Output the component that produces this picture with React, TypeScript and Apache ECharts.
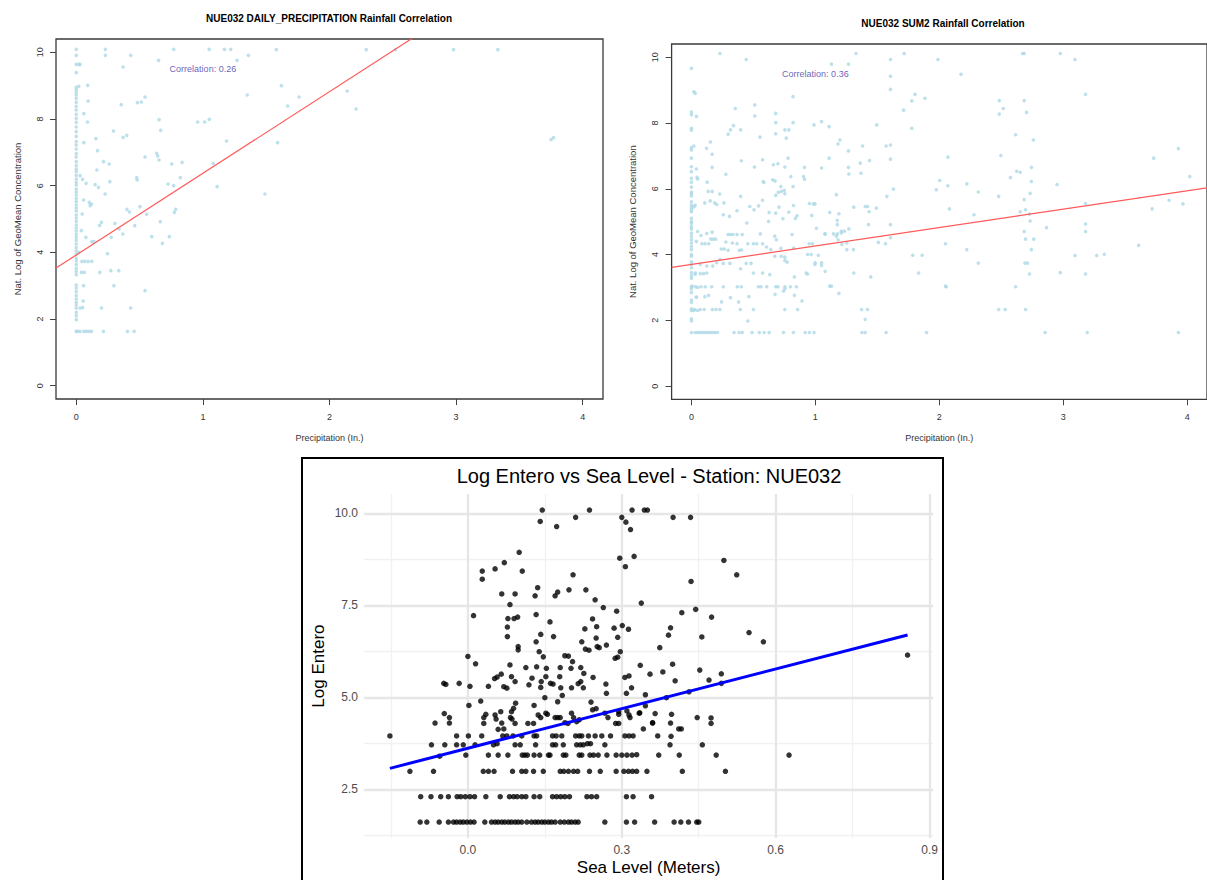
import React, { useEffect, useRef } from "react";
import * as echarts from "echarts";

// ---------- texts ----------
const dailyTitle = "NUE032 DAILY_PRECIPITATION Rainfall Correlation";
const sum2Title = "NUE032 SUM2 Rainfall Correlation";
const seaTitle = "Log Entero vs Sea Level - Station: NUE032";
const rXName = "Precipitation (In.)";
const rYName = "Nat. Log of GeoMean Concentration";
const seaXName = "Sea Level (Meters)";
const seaYName = "Log Entero";
const dailyCorr = "Correlation: 0.26";
const sum2Corr = "Correlation: 0.36";
const corrAt = [1, 9.5];

// ---------- ticks ----------
const rTicksX = [0, 1, 2, 3, 4];
const rTicksY = [0, 2, 4, 6, 8, 10];
const seaTicksX = [0, 0.3, 0.6, 0.9];
const seaMinorX = [-0.15, 0.15, 0.45, 0.75];
const seaTicksY = [2.5, 5, 7.5, 10];
const seaMinorY = [1.25, 3.75, 6.25, 8.75];

// ---------- fits ----------
const dailyFit = { intercept: 3.92, slope: 2.45 };
const sum2Fit = { intercept: 3.7, slope: 0.56 };
const seaFit = { intercept: 3.616, slope: 3.59 };

// ---------- data ----------
const dailyZeroColumn = [10.09, 9.91, 9.64, 9.39, 8.95, 8.88, 8.8, 8.72, 8.62, 8.5, 8.38, 8.27, 8.14, 8.02, 7.9, 7.76, 7.62, 7.48, 7.32, 7.22, 7.1, 6.96, 6.86, 6.72, 6.6, 6.5, 6.42, 6.31, 6.2, 6.1, 6.02, 5.9, 5.81, 5.72, 5.62, 5.52, 5.42, 5.33, 5.24, 5.12, 5.03, 4.93, 4.82, 4.73, 4.64, 4.54, 4.45, 4.36, 4.25, 4.14, 4.04, 3.94, 3.82, 3.74, 3.63, 3.52, 3.43, 3.33, 3.02, 2.93, 2.82, 2.7, 2.6, 2.5, 2.42, 2.33, 2.2, 2.1, 1.98, 1.63];
const dailyPoints = [
  [0.02, 9.64], [0.03, 9.64], [0.02, 8.98], [0.09, 9.01], [0.01, 1.63], [0.03, 1.63], [0.06, 1.63], [0.08, 1.63], [0.1, 1.63], [0.12, 1.63],
  [0.03, 6.3], [0.04, 4.65], [0.02, 4.0], [0.04, 3.4], [0.03, 2.33],
  [0.23, 10.09], [0.23, 9.91], [0.43, 9.91], [0.37, 9.56], [0.65, 9.76], [0.77, 10.09], [1.05, 10.09], [1.17, 10.09], [1.22, 10.09], [1.27, 9.76], [1.36, 9.91], [1.58, 10.08], [2.29, 10.08], [2.52, 10.08], [2.98, 10.08], [3.33, 10.08],
  [0.094, 8.54], [0.06, 8.16], [0.089, 7.91], [0.355, 8.43], [0.483, 8.49], [0.514, 8.51], [0.543, 8.66], [0.654, 7.98], [0.667, 7.66], [0.959, 7.91], [1.014, 7.91], [1.051, 7.99], [1.62, 9.0], [1.35, 8.72], [1.76, 8.66], [1.67, 8.39], [2.14, 8.84], [2.21, 8.3],
  [0.294, 7.64], [0.37, 7.45], [0.399, 7.51], [0.155, 7.41], [0.06, 7.29], [0.168, 7.05], [1.187, 7.34], [1.59, 7.29], [3.75, 7.38], [3.77, 7.44],
  [0.215, 6.72], [0.26, 6.65], [0.163, 6.47], [0.543, 6.86], [0.635, 6.97], [0.643, 6.89], [0.654, 6.77], [0.754, 6.65], [0.836, 6.7], [1.082, 6.67],
  [0.05, 6.19], [0.078, 6.07], [0.149, 6.03], [0.176, 5.95], [0.265, 6.12], [0.228, 5.75], [0.478, 6.24], [0.481, 6.17], [0.822, 6.24], [0.725, 6.05], [0.769, 6.0], [1.113, 5.97], [1.49, 5.75],
  [0.058, 5.57], [0.102, 5.5], [0.11, 5.4], [0.12, 5.45], [0.047, 5.15], [0.4, 5.29], [0.42, 5.21], [0.504, 5.37], [0.556, 5.14], [0.785, 5.29], [0.775, 5.2],
  [0.199, 4.9], [0.184, 4.81], [0.305, 4.87], [0.339, 4.7], [0.368, 4.55], [0.462, 4.8], [0.664, 4.92], [0.596, 4.47], [0.68, 4.27], [0.735, 4.47],
  [0.076, 4.45], [0.123, 4.32], [0.141, 4.32], [0.276, 4.45], [0.045, 3.73], [0.068, 3.73], [0.094, 3.73], [0.123, 3.73], [0.063, 3.4], [0.186, 3.4], [0.273, 3.45], [0.336, 3.45], [0.247, 3.96],
  [0.058, 3.0], [0.297, 3.0], [0.543, 2.85], [0.055, 2.54], [0.05, 2.34], [0.199, 2.33], [0.43, 2.33], [0.215, 1.63], [0.404, 1.63], [0.457, 1.63],
];

const sum2ZeroColumn = [9.66, 8.33, 8.25, 7.84, 7.78, 7.25, 7.18, 6.93, 6.67, 6.52, 6.32, 6.2, 6.05, 5.9, 5.85, 5.78, 5.6, 5.5, 5.42, 5.35, 5.3, 5.1, 5.0, 4.95, 4.85, 4.78, 4.65, 4.55, 4.45, 4.35, 4.25, 4.15, 4.0, 3.95, 3.78, 3.7, 3.6, 3.45, 3.35, 3.28, 3.02, 2.96, 2.85, 2.62, 2.55, 2.35, 2.3, 2.05, 1.98, 1.63];
const sum2Points = [
  [0.02, 8.95], [0.03, 8.9], [0.04, 8.2], [0.02, 7.3], [0.04, 6.6], [0.05, 6.3], [0.03, 5.5], [0.02, 5.45], [0.05, 4.7], [0.04, 4.4], [0.03, 3.4], [0.05, 3.0], [0.04, 2.7], [0.02, 2.3], [0.05, 2.3],
  [0.03, 1.63], [0.05, 1.63], [0.07, 1.63], [0.09, 1.63], [0.11, 1.63], [0.13, 1.63], [0.15, 1.63], [0.17, 1.63], [0.19, 1.63], [0.21, 1.63],
  [0.23, 10.11], [0.442, 9.93], [1.13, 9.79], [1.267, 9.79], [1.328, 10.11], [1.606, 9.93], [1.606, 9.42], [1.606, 9.02], [1.717, 10.11], [1.989, 9.93],
  [0.82, 8.8], [0.354, 8.44], [0.511, 8.55], [0.511, 8.21], [0.68, 8.29], [0.68, 8.01], [0.82, 8.01], [1.804, 8.87], [1.778, 8.67], [1.884, 8.75], [1.712, 8.39], [1.778, 7.84],
  [0.397, 7.79], [0.315, 7.79], [0.296, 7.66], [0.339, 7.92], [0.553, 7.57], [0.68, 7.67], [0.754, 7.79], [0.786, 7.79], [0.765, 7.54], [0.989, 7.94], [1.05, 8.04], [1.111, 7.89], [1.495, 7.94],
  [1.198, 7.48], [1.183, 7.36], [1.267, 7.15], [1.381, 7.3], [1.571, 7.3], [1.606, 7.33], [0.122, 7.23], [0.153, 7.42], [0.167, 7.05], [0.278, 6.44], [0.402, 6.85], [0.574, 6.88], [0.508, 6.66],
  [0.661, 6.73], [0.698, 6.76], [0.754, 6.66], [0.78, 6.93], [0.802, 6.37], [0.913, 6.65], [1.05, 6.63], [1.111, 6.93], [1.267, 6.65], [1.362, 6.78], [1.437, 6.86], [1.27, 6.45], [1.368, 6.47],
  [1.606, 6.9], [1.63, 5.99], [1.577, 5.77], [0.167, 6.65], [0.045, 6.35], [0.127, 6.2], [0.135, 5.92], [0.167, 5.92], [0.228, 5.84], [0.108, 5.57], [0.151, 5.63], [0.188, 5.57], [0.204, 5.52],
  [0.262, 5.57], [0.257, 5.21], [0.307, 5.16], [0.368, 5.33], [0.397, 5.77], [0.447, 4.96], [0.471, 5.46], [0.505, 5.36], [0.542, 5.48], [0.627, 5.28], [0.574, 5.65], [0.579, 6.22], [0.585, 6.19],
  [0.656, 6.27], [0.675, 6.24], [0.722, 6.07], [0.701, 5.89], [0.68, 5.8], [0.725, 5.92], [0.749, 5.95], [0.754, 5.85], [0.82, 6.07], [0.823, 5.49], [0.786, 5.29], [0.738, 5.09], [0.68, 5.26],
  [0.706, 5.44], [0.622, 5.01], [0.852, 5.18], [0.839, 5.1], [0.905, 6.37], [0.913, 6.29], [0.952, 5.55], [0.984, 5.54], [0.997, 5.54], [0.971, 5.19], [1.008, 4.8], [1.079, 4.62], [1.116, 5.28],
  [1.169, 5.82], [1.19, 5.24], [1.177, 5.04], [1.177, 4.91], [1.209, 4.71], [1.235, 4.71], [1.27, 4.78], [1.169, 4.56], [1.183, 4.45], [1.254, 4.35], [1.31, 5.44], [1.402, 5.46], [1.421, 5.46],
  [1.434, 5.3], [1.492, 5.41], [1.429, 4.91], [1.606, 4.91], [1.508, 4.37], [1.606, 4.51], [1.566, 4.33], [1.307, 4.15], [1.786, 3.98], [1.862, 3.98], [1.833, 3.44], [2.05, 4.33], [2.05, 3.04],
  [1.447, 3.32], [1.116, 3.04], [1.13, 3.04], [1.19, 2.82], [1.373, 2.33], [1.421, 2.33], [1.402, 2.03], [1.376, 1.63], [1.402, 1.63], [1.571, 1.63], [1.897, 1.63],
  [0.077, 4.58], [0.124, 4.64], [0.167, 4.68], [0.156, 4.47], [0.177, 4.47], [0.196, 4.47], [0.241, 4.17], [0.265, 4.17], [0.085, 4.33], [0.11, 4.33], [0.14, 4.33], [0.278, 4.38], [0.296, 4.61],
  [0.315, 4.61], [0.336, 4.61], [0.368, 4.61], [0.41, 4.61], [0.296, 4.13], [0.331, 4.35], [0.368, 4.33], [0.386, 4.13], [0.405, 4.14], [0.455, 4.33], [0.556, 4.63], [0.5, 4.33], [0.527, 4.33],
  [0.574, 4.33], [0.606, 4.23], [0.64, 4.15], [0.672, 4.56], [0.685, 4.45], [0.722, 4.19], [0.754, 3.92], [0.772, 3.77], [0.812, 4.61], [0.825, 4.2], [0.95, 4.33], [0.976, 4.33], [0.937, 4.0],
  [0.966, 4.0], [1.024, 3.98], [0.999, 3.75], [1.05, 3.75], [1.077, 4.63], [1.146, 4.63], [1.177, 4.63], [1.209, 4.66], [1.214, 4.31], [1.254, 4.15], [0.032, 3.44], [0.071, 3.42], [0.098, 3.42],
  [0.124, 3.44], [0.071, 3.7], [0.124, 3.65], [0.172, 3.65], [0.204, 3.75], [0.23, 3.85], [0.257, 3.73], [0.31, 3.73], [0.397, 3.57], [0.442, 3.73], [0.481, 3.73], [0.5, 3.44], [0.574, 3.44],
  [0.632, 3.39], [0.672, 3.95], [0.725, 3.95], [0.754, 3.82], [0.831, 3.32], [0.926, 3.44], [0.937, 3.41], [0.997, 3.7], [1.05, 3.67], [1.079, 3.49], [1.31, 3.44],
  [0.005, 3.04], [0.032, 3.02], [0.077, 3.02], [0.111, 3.02], [0.164, 3.02], [0.257, 3.02], [0.37, 3.02], [0.402, 3.02], [0.54, 3.02], [0.561, 3.02], [0.608, 3.02], [0.68, 3.02], [0.698, 3.02],
  [0.754, 3.02], [0.799, 3.02], [0.847, 3.02], [0.04, 2.71], [0.108, 2.72], [0.138, 2.76], [0.243, 2.56], [0.315, 2.69], [0.381, 2.56], [0.463, 2.72], [0.675, 2.79], [0.743, 2.89], [0.754, 2.96],
  [0.831, 2.76], [0.892, 2.59], [0.026, 2.33], [0.071, 2.33], [0.103, 2.33], [0.169, 2.33], [0.198, 2.33], [0.23, 2.33], [0.394, 2.33], [0.5, 2.33], [0.754, 2.33], [0.857, 2.33], [0.455, 1.98],
  [0.344, 1.63], [0.384, 1.63], [0.41, 1.63], [0.489, 1.63], [0.548, 1.63], [0.587, 1.63], [0.627, 1.63], [0.743, 1.63], [0.823, 1.63], [0.918, 1.63], [0.952, 1.63], [0.989, 1.63],
  [2.672, 10.11], [2.685, 10.11], [2.976, 10.11], [3.095, 9.93], [2.175, 9.48], [3.18, 8.87], [2.484, 8.68], [2.685, 8.68], [2.516, 8.44], [2.484, 8.27], [2.704, 8.32], [2.616, 7.64], [2.759, 7.48],
  [2.069, 6.96], [2.497, 7.01], [3.929, 7.22], [3.73, 6.93], [4.021, 6.37], [2.743, 6.65], [2.624, 6.53], [2.653, 6.5], [2.574, 6.34], [2.003, 6.25], [1.976, 5.97], [2.069, 6.09], [2.222, 6.15],
  [2.315, 5.9], [2.743, 6.22], [2.733, 5.86], [2.95, 6.13], [2.479, 5.77], [2.685, 5.67], [2.082, 5.39], [2.28, 5.21], [2.653, 5.3], [2.696, 5.36], [2.728, 5.23], [2.733, 5.02], [3.18, 5.55],
  [3.18, 4.93], [3.18, 4.7], [2.865, 4.82], [2.685, 4.7], [2.696, 4.47], [2.762, 4.47], [3.717, 5.39], [3.854, 5.65], [3.966, 5.54], [3.608, 4.28], [2.222, 4.15], [2.743, 4.15], [2.315, 3.74],
  [2.691, 3.74], [2.712, 3.74], [2.728, 3.41], [2.976, 3.45], [3.095, 3.97], [3.27, 3.97], [3.331, 4.01], [3.18, 3.41], [2.056, 3.02], [2.616, 3.02], [2.479, 2.33], [2.532, 2.33], [2.696, 2.33],
  [2.854, 1.63], [3.193, 1.63], [3.929, 1.63],
];

const seaLevelPoints = [
  [0.145, 10.09], [0.141, 9.78], [0.173, 9.64], [0.21, 9.89], [0.237, 10.09], [0.3, 9.89], [0.308, 9.76], [0.317, 9.56], [0.32, 10.09], [0.344, 10.09], [0.35, 10.09], [0.4, 9.89], [0.434, 9.89],
  [0.296, 8.78], [0.307, 8.55], [0.324, 8.83], [0.1, 8.94], [0.071, 8.66], [0.053, 8.49], [0.028, 8.43], [0.028, 8.21], [0.106, 8.43], [0.205, 8.33], [0.499, 8.72], [0.524, 8.33], [0.435, 8.15],
  [0.066, 7.81], [0.092, 7.81], [0.082, 7.52], [0.131, 7.76], [0.136, 7.98], [0.17, 7.76], [0.175, 7.86], [0.197, 7.92], [0.23, 7.92], [0.248, 7.65], [0.264, 7.44], [0.29, 7.34], [0.338, 7.56],
  [0.417, 7.3], [0.444, 7.39], [0.475, 7.18], [0.011, 7.22], [0.078, 7.14], [0.09, 7.14], [0.097, 7.18], [0.077, 6.91], [0.077, 6.65], [0.098, 6.38], [0.098, 6.29], [0.133, 7.25], [0.16, 7.05],
  [0.133, 6.51], [0.142, 6.71], [0.167, 6.65], [0.139, 6.24], [0.147, 6.1], [0.228, 6.86], [0.243, 7.13], [0.251, 6.92], [0.222, 6.51], [0.229, 6.31], [0.236, 6.28], [0.25, 6.61], [0.252, 6.38],
  [0.256, 6.35], [0.27, 6.42], [0.285, 6.88], [0.292, 6.63], [0.301, 6.95], [0.313, 6.85], [0.297, 6.24], [0.292, 6.09], [0.287, 6.06], [0.374, 6.35], [0.395, 6.89], [0.391, 6.69], [0.456, 6.64],
  [0.548, 6.76], [0.576, 6.51], [0.857, 6.15],
  [0, 6.11], [0.015, 5.91], [-0.047, 5.38], [-0.043, 5.35], [-0.017, 5.38], [0.004, 5.3], [0.04, 5.3], [0.052, 5.51], [0.057, 5.55], [0.065, 5.63], [0.07, 5.29], [0.076, 5.25], [0.082, 5.88],
  [0.085, 5.56], [0.092, 5.43], [0.113, 5.81], [0.134, 5.83], [0.125, 5.52], [0.119, 5.34], [0.143, 5.43], [0.142, 5.27], [0.153, 5.79], [0.152, 5.56], [0.161, 5.38], [0.166, 5.36], [0.18, 5.81],
  [0.179, 5.56], [0.181, 5.26], [0.189, 6.13], [0.196, 6.12], [0.201, 5.79], [0.204, 5.97], [0.202, 5.26], [0.215, 5.37], [0.22, 5.43], [0.22, 5.81], [0.226, 5.65], [0.244, 5.54], [0.225, 5.26],
  [0.269, 5.36], [0.27, 5.11], [0.306, 5.54], [0.314, 5.58], [0.309, 5.11], [0.319, 5.26], [0.336, 5.87], [0.346, 5.07], [0.355, 5.63], [0.38, 5.69], [0.399, 5.9], [0.404, 5.45], [0.452, 5.74],
  [0.47, 5.47], [0.494, 5.64], [0.494, 5.38], [0.431, 5.15], [0.387, 4.99],
  [0.184, 5.05], [0.175, 4.88], [0.15, 4.99], [0.129, 4.78], [0.093, 4.84], [0.089, 4.7], [0.085, 4.61], [0.064, 4.61], [0.053, 4.52], [0.025, 4.9], [0.002, 4.78], [0.035, 4.54], [0.031, 4.45],
  [0.031, 4.29], [0.055, 4.41], [0.059, 4.13], [0.066, 4.3], [0.07, 4.14], [0.083, 4.45], [0.086, 4.41], [0.092, 4.29], [0.117, 4.29], [0.128, 4.29], [0.137, 4.52], [0.142, 4.45], [0.152, 4.57],
  [0.155, 4.54], [0.17, 4.45], [0.175, 4.45], [0.18, 4.45], [0.189, 4.31], [0.195, 4.29], [0.202, 4.57], [0.206, 4.45], [0.212, 4.34], [0.217, 4.39], [0.24, 4.87], [0.243, 4.66], [0.25, 4.69],
  [0.267, 4.57], [0.273, 4.45], [0.288, 4.29], [0.294, 4.29], [0.294, 4.61], [0.294, 4.54], [0.31, 4.63], [0.314, 4.52], [0.316, 4.45], [0.334, 4.57], [0.342, 4.14], [0.36, 4.3], [0.365, 4.56],
  [0.346, 4.77], [0.335, 4.58], [0.397, 4.54], [0.395, 4.3], [0.36, 4.31], [0.447, 4.45], [0.474, 4.44], [0.474, 4.29], [0.411, 4.14], [0.416, 4.14], [-0.064, 4.3], [-0.046, 4.56], [-0.036, 4.45],
  [-0.036, 4.3],
  [-0.152, 3.95], [-0.022, 3.95], [0.001, 3.95], [0.027, 3.95], [0.068, 3.95], [0.076, 3.95], [0.088, 3.95], [0.105, 3.95], [0.129, 3.95], [0.134, 3.95], [0.165, 3.95], [0.172, 3.95], [0.183, 3.95],
  [0.21, 3.95], [0.217, 3.95], [0.222, 3.95], [0.235, 3.95], [0.248, 3.95], [0.261, 3.95], [0.278, 3.95], [0.306, 3.95], [0.314, 3.95], [0.322, 3.95], [0.37, 3.95], [0.396, 3.94],
  [-0.071, 3.71], [-0.045, 3.71], [-0.022, 3.71], [-0.009, 3.71], [0.014, 3.71], [0.05, 3.71], [0.057, 3.74], [0.092, 3.71], [0.102, 3.71], [0.132, 3.71], [0.165, 3.71], [0.171, 3.71], [0.186, 3.71],
  [0.212, 3.71], [0.219, 3.71], [0.225, 3.71], [0.233, 3.74], [0.239, 3.74], [0.267, 3.71], [0.394, 3.71], [0.457, 3.71],
  [-0.055, 3.4], [-0.004, 3.43], [0.04, 3.43], [0.059, 3.43], [0.078, 3.43], [0.106, 3.43], [0.111, 3.43], [0.116, 3.43], [0.129, 3.43], [0.14, 3.43], [0.157, 3.43], [0.16, 3.43], [0.186, 3.43],
  [0.191, 3.43], [0.217, 3.43], [0.222, 3.43], [0.238, 3.43], [0.245, 3.43], [0.254, 3.43], [0.271, 3.43], [0.289, 3.43], [0.3, 3.43], [0.31, 3.43], [0.32, 3.43], [0.329, 3.44], [0.372, 3.43],
  [0.412, 3.43], [0.484, 3.43], [0.626, 3.43],
  [-0.113, 2.99], [-0.067, 2.99], [0.03, 2.99], [0.04, 2.99], [0.051, 2.99], [0.087, 2.99], [0.105, 2.99], [0.113, 2.99], [0.128, 2.99], [0.147, 2.99], [0.18, 2.99], [0.187, 2.99], [0.196, 2.99],
  [0.206, 2.99], [0.214, 2.99], [0.237, 2.99], [0.258, 2.99], [0.289, 2.99], [0.304, 2.99], [0.313, 2.99], [0.321, 2.99], [0.329, 2.99], [0.349, 2.99], [0.418, 2.99], [0.502, 2.99],
  [-0.092, 2.3], [-0.072, 2.3], [-0.053, 2.3], [-0.038, 2.3], [-0.021, 2.3], [-0.014, 2.3], [-0.005, 2.3], [0.004, 2.3], [0.013, 2.3], [0.035, 2.3], [0.063, 2.3], [0.081, 2.3], [0.089, 2.3],
  [0.096, 2.3], [0.105, 2.3], [0.113, 2.3], [0.129, 2.3], [0.14, 2.3], [0.165, 2.3], [0.173, 2.3], [0.181, 2.3], [0.189, 2.3], [0.198, 2.3], [0.232, 2.3], [0.241, 2.3], [0.251, 2.3], [0.309, 2.3],
  [0.322, 2.3], [0.358, 2.3],
  [-0.093, 1.61], [-0.08, 1.61], [-0.056, 1.61], [-0.038, 1.61], [-0.028, 1.61], [-0.022, 1.61], [-0.015, 1.61], [-0.009, 1.61], [-0.002, 1.61], [0.005, 1.61], [0.012, 1.61], [0.033, 1.61],
  [0.046, 1.61], [0.053, 1.61], [0.059, 1.61], [0.066, 1.61], [0.072, 1.61], [0.079, 1.61], [0.085, 1.61], [0.092, 1.61], [0.098, 1.61], [0.105, 1.61], [0.115, 1.61], [0.124, 1.61], [0.131, 1.61],
  [0.137, 1.61], [0.144, 1.61], [0.15, 1.61], [0.157, 1.61], [0.163, 1.61], [0.17, 1.61], [0.18, 1.61], [0.188, 1.61], [0.196, 1.61], [0.202, 1.61], [0.209, 1.61], [0.215, 1.61], [0.267, 1.61],
  [0.309, 1.61], [0.325, 1.61], [0.364, 1.61], [0.402, 1.61], [0.415, 1.61], [0.43, 1.61], [0.446, 1.61], [0.45, 1.61],
];

const rFont = "'Liberation Sans', Arial, sans-serif";
const ggFont = "'Liberation Sans', Arial, sans-serif";

function fitLine(fit: { intercept: number; slope: number }, x0: number, x1: number) {
  return [
    [x0, fit.intercept + fit.slope * x0],
    [x1, fit.intercept + fit.slope * x1],
  ];
}

function rXAxis(gridIndex: number) {
  return {
    type: "value", gridIndex, min: -0.16, max: 4.16,
    axisLine: { show: false, onZero: false },
    axisTick: { show: true, inside: false, length: 6, customValues: rTicksX, lineStyle: { color: "#444", width: 1 } },
    axisLabel: { show: true, customValues: rTicksX, margin: 13, color: "#333", fontSize: 9, fontFamily: rFont },
    splitLine: { show: false },
    name: rXName, nameLocation: "middle", nameGap: 34,
    nameTextStyle: { color: "#333", fontSize: 9, fontFamily: rFont },
  };
}
function rYAxis(gridIndex: number) {
  return {
    type: "value", gridIndex, min: -0.4, max: 10.4,
    axisLine: { show: false, onZero: false },
    axisTick: { show: true, inside: false, length: 6, customValues: rTicksY, lineStyle: { color: "#444", width: 1 } },
    axisLabel: { show: true, customValues: rTicksY, rotate: 90, margin: 12, color: "#333", fontSize: 9, fontFamily: rFont },
    splitLine: { show: false },
    name: rYName, nameLocation: "middle", nameGap: 34,
    nameTextStyle: { color: "#333", fontSize: 9.5, fontFamily: rFont },
  };
}

function corrSeries(idx: number, text: string) {
  return {
    type: "scatter", xAxisIndex: idx, yAxisIndex: idx, silent: true, z: 5,
    data: [corrAt], symbolSize: 1, itemStyle: { color: "rgba(0,0,0,0)" },
    label: { show: true, position: "inside", formatter: text, color: "#3d37a8", fontSize: 9, fontFamily: rFont },
  };
}

export default function App() {
  const ref = useRef<HTMLDivElement>(null);
  useEffect(() => {
    if (!ref.current) return;
    const chart = echarts.init(ref.current, undefined, { renderer: "svg" });
    const seaXs = seaLevelPoints.map((p) => p[0]);
    const seaMinX = Math.min(...seaXs);
    const seaMaxX = Math.max(...seaXs);
    const daily = dailyZeroColumn.map((y) => [0, y]).concat(dailyPoints);
    const sum2 = sum2ZeroColumn.map((y) => [0, y]).concat(sum2Points);

    const gridMarks = [
      ...seaMinorY.map((v) => ({ yAxis: v, lineStyle: { color: "#f1f1f1", width: 1.3, type: "solid" } })),
      ...seaMinorX.map((v) => ({ xAxis: v, lineStyle: { color: "#f1f1f1", width: 1.3, type: "solid" } })),
      ...seaTicksY.map((v) => ({ yAxis: v, lineStyle: { color: "#e6e6e6", width: 2.3, type: "solid" } })),
      ...seaTicksX.map((v) => ({ xAxis: v, lineStyle: { color: "#e6e6e6", width: 2.3, type: "solid" } })),
    ];

    chart.setOption({
      animation: false,
      backgroundColor: "#ffffff",
      grid: [
        { left: 56, top: 39, width: 547, height: 360, show: true, borderColor: "#3a3a3a", borderWidth: 1.3, backgroundColor: "transparent" },
        { left: 671.6, top: 44, width: 544.3, height: 355.3, show: true, borderColor: "#3a3a3a", borderWidth: 1.3, backgroundColor: "transparent" },
        { left: 364, top: 494, width: 569.2, height: 344.1, show: false },
      ],
      xAxis: [
        rXAxis(0),
        rXAxis(1),
        {
          type: "value", gridIndex: 2, min: -0.2025, max: 0.907,
          axisLine: { show: false, onZero: false }, axisTick: { show: false }, splitLine: { show: false },
          axisLabel: { customValues: seaTicksX, formatter: (v: number) => v.toFixed(1), margin: 6, color: "#4d4d4d", fontSize: 12, fontFamily: ggFont },
          name: seaXName, nameLocation: "middle", nameGap: 21,
          nameTextStyle: { color: "#000", fontSize: 17, fontFamily: ggFont },
        },
      ],
      yAxis: [
        rYAxis(0),
        rYAxis(1),
        {
          type: "value", gridIndex: 2, min: 1.175, max: 10.525,
          axisLine: { show: false, onZero: false }, axisTick: { show: false }, splitLine: { show: false },
          axisLabel: { customValues: seaTicksY, formatter: (v: number) => v.toFixed(1), margin: 6, color: "#4d4d4d", fontSize: 12, fontFamily: ggFont },
          name: seaYName, nameLocation: "middle", nameGap: 37,
          nameTextStyle: { color: "#000", fontSize: 17, fontFamily: ggFont },
        },
      ],
      graphic: [
        { type: "text", x: 329, y: 18, style: { text: dailyTitle, fill: "#000", fontSize: 10, fontWeight: "bold", fontFamily: rFont, align: "center", verticalAlign: "middle" } },
        { type: "text", x: 943, y: 23, style: { text: sum2Title, fill: "#000", fontSize: 10, fontWeight: "bold", fontFamily: rFont, align: "center", verticalAlign: "middle" } },
        { type: "text", x: 649, y: 476, style: { text: seaTitle, fill: "#000", fontSize: 20, fontFamily: ggFont, align: "center", verticalAlign: "middle" } },
        { type: "rect", shape: { x: 302, y: 458, width: 641, height: 440 }, style: { fill: "none", stroke: "#000", lineWidth: 2 }, z: 10 },
      ],
      series: [
        { type: "scatter", xAxisIndex: 0, yAxisIndex: 0, data: daily, symbolSize: 3.6, itemStyle: { color: "#add8e6" }, silent: true },
        { type: "line", xAxisIndex: 0, yAxisIndex: 0, data: fitLine(dailyFit, -0.16, 4.16), symbol: "none", clip: true, lineStyle: { color: "#ff5a5a", width: 1.2 }, silent: true, z: 3 },
        corrSeries(0, dailyCorr),
        { type: "scatter", xAxisIndex: 1, yAxisIndex: 1, data: sum2, symbolSize: 3.6, itemStyle: { color: "#add8e6" }, silent: true },
        { type: "line", xAxisIndex: 1, yAxisIndex: 1, data: fitLine(sum2Fit, -0.16, 4.16), symbol: "none", clip: true, lineStyle: { color: "#ff5a5a", width: 1.2 }, silent: true, z: 3 },
        corrSeries(1, sum2Corr),
        {
          type: "scatter", xAxisIndex: 2, yAxisIndex: 2, data: [], z: 0, zlevel: 0, silent: true,
          markLine: { silent: true, z: 0, symbol: ["none", "none"], label: { show: false }, animation: false, data: gridMarks },
        },
        { type: "scatter", xAxisIndex: 2, yAxisIndex: 2, data: seaLevelPoints, symbolSize: 5.5, itemStyle: { color: "#000" }, silent: true, z: 6 },
        { type: "line", xAxisIndex: 2, yAxisIndex: 2, data: fitLine(seaFit, seaMinX, seaMaxX), symbol: "none", lineStyle: { color: "#0000ff", width: 3 }, silent: true, z: 7 },
      ],
    });
    return () => chart.dispose();
  }, []);
  return <div ref={ref} style={{ position: "absolute", left: 0, top: 0, width: 1207, height: 880 }} />;
}
